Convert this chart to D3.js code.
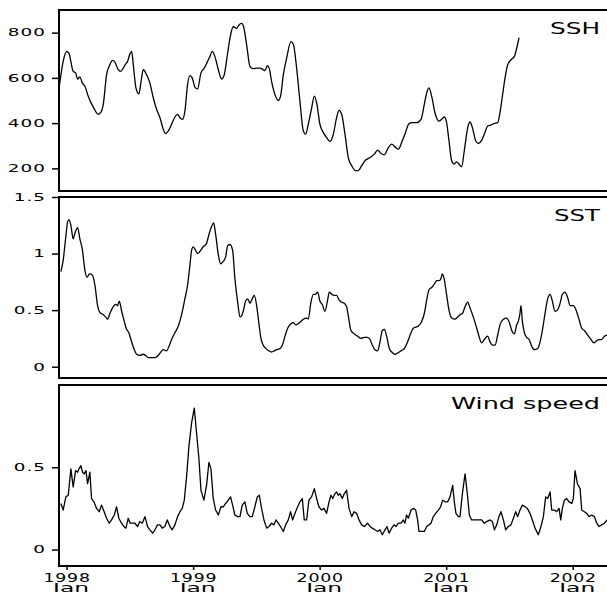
<!DOCTYPE html>
<html>
<head>
<meta charset="utf-8">
<script src="https://cdn.jsdelivr.net/npm/d3@7"></script>
<style>
   html, body { margin: 0; padding: 0; background: #fff; overflow: hidden; }
   svg { display: block; }
   svg text { font-family: "DejaVu Sans", sans-serif; fill: #000; }
</style>
</head>
<body>
<svg class="tripanel" width="607" height="592"></svg>
<script>
// x axis: decimal years, labelled once a year
var yearTicks = [1998, 1999, 2000, 2001, 2002];
var monthLabel = 'Jan';

// SSH
var sshYears = [
   1997.942, 1997.973, 1998.000, 1998.018, 1998.052, 1998.071, 1998.087, 1998.105, 1998.124, 1998.145,
   1998.171, 1998.211, 1998.250, 1998.269, 1998.290, 1998.316, 1998.342, 1998.363, 1998.382, 1998.408,
   1998.427, 1998.448, 1998.466, 1998.482, 1998.500, 1998.514, 1998.527, 1998.548, 1998.571, 1998.587,
   1998.606, 1998.632, 1998.658, 1998.685, 1998.711, 1998.738, 1998.764, 1998.782, 1998.803, 1998.830,
   1998.856, 1998.877, 1998.896, 1998.917, 1998.935, 1998.956, 1998.975, 1998.993, 1999.014, 1999.035,
   1999.062, 1999.088, 1999.114, 1999.133, 1999.151, 1999.172, 1999.199, 1999.225, 1999.246, 1999.273,
   1999.296, 1999.317, 1999.344, 1999.362, 1999.383, 1999.399, 1999.423, 1999.449, 1999.475, 1999.502,
   1999.528, 1999.554, 1999.568, 1999.586, 1999.602, 1999.620, 1999.647, 1999.673, 1999.691, 1999.713,
   1999.739, 1999.773, 1999.792, 1999.818, 1999.844, 1999.871, 1999.889, 1999.910, 1999.937, 1999.958,
   1999.976, 2000.002, 2000.029, 2000.055, 2000.081, 2000.108, 2000.134, 2000.153, 2000.174, 2000.200,
   2000.226, 2000.253, 2000.284, 2000.305, 2000.332, 2000.358, 2000.398, 2000.432, 2000.458, 2000.485,
   2000.511, 2000.543, 2000.569, 2000.595, 2000.622, 2000.653, 2000.674, 2000.706, 2000.732, 2000.766,
   2000.801, 2000.827, 2000.846, 2000.864, 2000.885, 2000.911, 2000.943, 2000.964, 2000.985, 2001.001,
   2001.022, 2001.043, 2001.064, 2001.083, 2001.101, 2001.122, 2001.143, 2001.170, 2001.188, 2001.207,
   2001.233, 2001.254, 2001.280, 2001.301, 2001.328, 2001.354, 2001.381, 2001.407, 2001.425, 2001.444,
   2001.465, 2001.486, 2001.512, 2001.539, 2001.557, 2001.576
];
var sshValues = [
   560, 673, 717, 709, 629, 622, 595, 604, 578, 563,
   519, 471, 439, 446, 483, 614, 658, 677, 670, 636,
   629, 643, 661, 673, 705, 717, 658, 556, 529, 578,
   636, 614, 578, 512, 461, 424, 373, 354, 365, 395,
   427, 439, 424, 417, 453, 570, 610, 600, 559, 551,
   622, 643, 673, 695, 717, 695, 636, 595, 614, 711,
   790, 826, 819, 834, 841, 826, 746, 651, 641, 643,
   643, 636, 632, 654, 641, 585, 526, 500, 519, 614,
   687, 760, 749, 643, 497, 365, 351, 395, 468, 519,
   490, 395, 358, 336, 319, 351, 424, 456, 439, 351,
   248, 212, 190, 190, 212, 234, 248, 263, 281, 266,
   260, 292, 307, 295, 285, 322, 351, 398, 402, 402,
   417, 483, 534, 556, 519, 446, 409, 417, 427, 409,
   322, 234, 219, 229, 219, 207, 278, 380, 405, 380,
   322, 310, 324, 351, 387, 392, 399, 402, 446, 519,
   600, 658, 680, 695, 731, 778
];
var sshTicks = [200, 400, 600, 800];

// SST
var sstYears = [
   1997.955, 1997.973, 1997.992, 1998.008, 1998.018, 1998.034, 1998.052, 1998.066, 1998.087, 1998.105,
   1998.124, 1998.145, 1998.163, 1998.179, 1998.203, 1998.224, 1998.245, 1998.263, 1998.290, 1998.308,
   1998.324, 1998.342, 1998.369, 1998.387, 1998.403, 1998.416, 1998.435, 1998.456, 1998.474, 1998.492,
   1998.514, 1998.535, 1998.553, 1998.579, 1998.606, 1998.624, 1998.645, 1998.672, 1998.698, 1998.724,
   1998.745, 1998.764, 1998.790, 1998.809, 1998.830, 1998.856, 1998.883, 1998.909, 1998.935, 1998.956,
   1998.975, 1998.988, 1999.001, 1999.014, 1999.035, 1999.054, 1999.080, 1999.106, 1999.125, 1999.146,
   1999.162, 1999.178, 1999.199, 1999.217, 1999.238, 1999.257, 1999.273, 1999.291, 1999.312, 1999.330,
   1999.352, 1999.370, 1999.383, 1999.396, 1999.415, 1999.431, 1999.449, 1999.467, 1999.483, 1999.502,
   1999.520, 1999.536, 1999.554, 1999.576, 1999.599, 1999.620, 1999.641, 1999.660, 1999.686, 1999.705,
   1999.726, 1999.747, 1999.773, 1999.792, 1999.810, 1999.831, 1999.852, 1999.871, 1999.897, 1999.910,
   1999.931, 1999.950, 1999.968, 1999.984, 2000.002, 2000.021, 2000.042, 2000.063, 2000.076, 2000.095,
   2000.116, 2000.134, 2000.153, 2000.174, 2000.195, 2000.213, 2000.232, 2000.247, 2000.274, 2000.300,
   2000.326, 2000.353, 2000.379, 2000.398, 2000.416, 2000.437, 2000.458, 2000.477, 2000.495, 2000.511,
   2000.529, 2000.551, 2000.569, 2000.595, 2000.616, 2000.643, 2000.669, 2000.695, 2000.722, 2000.740,
   2000.759, 2000.780, 2000.806, 2000.827, 2000.846, 2000.864, 2000.885, 2000.906, 2000.925, 2000.943,
   2000.959, 2000.969, 2000.985, 2001.004, 2001.022, 2001.043, 2001.070, 2001.091, 2001.109, 2001.128,
   2001.149, 2001.170, 2001.188, 2001.214, 2001.241, 2001.259, 2001.280, 2001.301, 2001.328, 2001.346,
   2001.365, 2001.386, 2001.407, 2001.425, 2001.452, 2001.478, 2001.496, 2001.518, 2001.539, 2001.557,
   2001.570, 2001.583, 2001.591, 2001.602, 2001.618, 2001.636, 2001.655, 2001.676, 2001.697, 2001.723,
   2001.742, 2001.760, 2001.781, 2001.802, 2001.821, 2001.839, 2001.860, 2001.879, 2001.900, 2001.918,
   2001.939, 2001.960, 2001.979, 2002.005, 2002.023, 2002.044, 2002.071, 2002.092, 2002.118, 2002.145,
   2002.166, 2002.190, 2002.208, 2002.229, 2002.250, 2002.271
];
var sstValues = [
   0.84, 0.94, 1.13, 1.28, 1.30, 1.25, 1.13, 1.18, 1.23, 1.13,
   1.04, 0.85, 0.79, 0.82, 0.81, 0.72, 0.54, 0.48, 0.46, 0.44,
   0.42, 0.47, 0.53, 0.55, 0.54, 0.58, 0.49, 0.40, 0.33, 0.30,
   0.22, 0.15, 0.11, 0.10, 0.11, 0.10, 0.08, 0.08, 0.08, 0.10,
   0.13, 0.15, 0.14, 0.18, 0.24, 0.30, 0.36, 0.46, 0.60, 0.72,
   0.90, 1.03, 1.06, 1.04, 1.00, 1.02, 1.06, 1.09, 1.17, 1.24,
   1.27, 1.17, 0.99, 0.91, 0.93, 0.97, 1.07, 1.08, 1.03, 0.78,
   0.57, 0.44, 0.45, 0.49, 0.58, 0.60, 0.56, 0.60, 0.63, 0.54,
   0.38, 0.25, 0.19, 0.16, 0.14, 0.13, 0.14, 0.15, 0.16, 0.19,
   0.27, 0.34, 0.38, 0.39, 0.37, 0.38, 0.40, 0.42, 0.43, 0.42,
   0.57, 0.64, 0.64, 0.66, 0.58, 0.55, 0.49, 0.59, 0.66, 0.64,
   0.63, 0.63, 0.59, 0.57, 0.56, 0.53, 0.41, 0.32, 0.29, 0.27,
   0.25, 0.26, 0.26, 0.24, 0.19, 0.15, 0.14, 0.22, 0.32, 0.33,
   0.27, 0.16, 0.13, 0.11, 0.12, 0.14, 0.16, 0.22, 0.30, 0.34,
   0.35, 0.36, 0.40, 0.47, 0.59, 0.68, 0.70, 0.73, 0.76, 0.76,
   0.78, 0.82, 0.77, 0.63, 0.50, 0.43, 0.42, 0.44, 0.46, 0.47,
   0.53, 0.57, 0.52, 0.44, 0.34, 0.27, 0.21, 0.24, 0.27, 0.22,
   0.19, 0.19, 0.28, 0.37, 0.42, 0.43, 0.40, 0.32, 0.29, 0.37,
   0.40, 0.47, 0.54, 0.40, 0.30, 0.26, 0.24, 0.18, 0.15, 0.16,
   0.22, 0.32, 0.47, 0.60, 0.64, 0.58, 0.49, 0.50, 0.56, 0.64,
   0.66, 0.61, 0.54, 0.54, 0.51, 0.44, 0.34, 0.32, 0.28, 0.24,
   0.21, 0.23, 0.24, 0.24, 0.27, 0.28
];
var sstTicks = [0, 0.5, 1, 1.5];

// Wind speed
var windYears = [
   1997.955, 1997.973, 1997.994, 1998.013, 1998.034, 1998.052, 1998.071, 1998.087, 1998.097, 1998.113,
   1998.126, 1998.139, 1998.153, 1998.166, 1998.184, 1998.197, 1998.216, 1998.237, 1998.258, 1998.276,
   1998.297, 1998.316, 1998.337, 1998.355, 1998.377, 1998.395, 1998.413, 1998.434, 1998.453, 1998.469,
   1998.487, 1998.503, 1998.521, 1998.540, 1998.561, 1998.579, 1998.598, 1998.619, 1998.640, 1998.658,
   1998.680, 1998.698, 1998.719, 1998.738, 1998.756, 1998.777, 1998.796, 1998.817, 1998.835, 1998.856,
   1998.877, 1998.896, 1998.914, 1998.930, 1998.948, 1998.967, 1998.988, 1999.009, 1999.027, 1999.046,
   1999.062, 1999.085, 1999.106, 1999.125, 1999.141, 1999.159, 1999.178, 1999.199, 1999.220, 1999.238,
   1999.257, 1999.278, 1999.296, 1999.312, 1999.330, 1999.352, 1999.370, 1999.388, 1999.409, 1999.428,
   1999.449, 1999.467, 1999.488, 1999.507, 1999.523, 1999.541, 1999.560, 1999.581, 1999.599, 1999.620,
   1999.639, 1999.655, 1999.673, 1999.691, 1999.713, 1999.731, 1999.752, 1999.770, 1999.786, 1999.805,
   1999.826, 1999.844, 1999.863, 1999.878, 1999.897, 1999.915, 1999.936, 1999.958, 1999.976, 1999.994,
   2000.015, 2000.034, 2000.055, 2000.074, 2000.089, 2000.103, 2000.121, 2000.134, 2000.147, 2000.160,
   2000.179, 2000.195, 2000.213, 2000.232, 2000.253, 2000.271, 2000.292, 2000.311, 2000.332, 2000.353,
   2000.379, 2000.398, 2000.416, 2000.437, 2000.458, 2000.477, 2000.495, 2000.516, 2000.532, 2000.548,
   2000.569, 2000.587, 2000.603, 2000.622, 2000.643, 2000.661, 2000.674, 2000.687, 2000.701, 2000.722,
   2000.740, 2000.759, 2000.774, 2000.785, 2000.806, 2000.827, 2000.846, 2000.864, 2000.880, 2000.898,
   2000.917, 2000.938, 2000.956, 2000.972, 2000.991, 2001.012, 2001.030, 2001.051, 2001.064, 2001.077,
   2001.096, 2001.109, 2001.128, 2001.149, 2001.167, 2001.183, 2001.201, 2001.228, 2001.254, 2001.280,
   2001.301, 2001.320, 2001.346, 2001.365, 2001.381, 2001.399, 2001.417, 2001.433, 2001.452, 2001.470,
   2001.491, 2001.512, 2001.531, 2001.549, 2001.565, 2001.583, 2001.602, 2001.623, 2001.641, 2001.662,
   2001.681, 2001.702, 2001.728, 2001.749, 2001.768, 2001.786, 2001.802, 2001.821, 2001.834, 2001.855,
   2001.873, 2001.892, 2001.905, 2001.918, 2001.934, 2001.952, 2001.971, 2001.992, 2002.005, 2002.018,
   2002.037, 2002.058, 2002.071, 2002.092, 2002.110, 2002.129, 2002.150, 2002.171, 2002.190, 2002.208,
   2002.229, 2002.250, 2002.271
];
var windValues = [
   0.28, 0.24, 0.32, 0.33, 0.49, 0.38, 0.48, 0.47, 0.49, 0.51,
   0.47, 0.46, 0.48, 0.40, 0.47, 0.31, 0.29, 0.25, 0.23, 0.27,
   0.23, 0.19, 0.16, 0.18, 0.21, 0.26, 0.19, 0.16, 0.14, 0.13,
   0.19, 0.16, 0.16, 0.16, 0.14, 0.17, 0.16, 0.20, 0.14, 0.12,
   0.10, 0.12, 0.15, 0.15, 0.13, 0.14, 0.18, 0.14, 0.12, 0.15,
   0.20, 0.23, 0.25, 0.30, 0.44, 0.63, 0.77, 0.86, 0.71, 0.55,
   0.36, 0.30, 0.39, 0.53, 0.49, 0.31, 0.24, 0.21, 0.26, 0.26,
   0.28, 0.30, 0.32, 0.27, 0.21, 0.20, 0.20, 0.27, 0.29, 0.22,
   0.20, 0.20, 0.26, 0.32, 0.33, 0.25, 0.18, 0.13, 0.14, 0.16,
   0.15, 0.18, 0.16, 0.14, 0.11, 0.15, 0.18, 0.23, 0.18, 0.22,
   0.26, 0.29, 0.31, 0.18, 0.18, 0.30, 0.32, 0.37, 0.31, 0.26,
   0.24, 0.25, 0.22, 0.29, 0.33, 0.31, 0.34, 0.35, 0.33, 0.34,
   0.31, 0.34, 0.36, 0.25, 0.20, 0.23, 0.22, 0.18, 0.15, 0.14,
   0.16, 0.14, 0.13, 0.12, 0.11, 0.12, 0.09, 0.12, 0.14, 0.10,
   0.13, 0.15, 0.14, 0.16, 0.16, 0.18, 0.16, 0.21, 0.19, 0.24,
   0.25, 0.24, 0.18, 0.11, 0.11, 0.11, 0.14, 0.15, 0.16, 0.20,
   0.22, 0.24, 0.26, 0.30, 0.29, 0.29, 0.32, 0.39, 0.29, 0.22,
   0.20, 0.20, 0.34, 0.46, 0.34, 0.21, 0.18, 0.18, 0.18, 0.18,
   0.16, 0.17, 0.18, 0.17, 0.12, 0.15, 0.20, 0.23, 0.18, 0.12,
   0.14, 0.15, 0.19, 0.23, 0.20, 0.24, 0.27, 0.26, 0.25, 0.22,
   0.18, 0.13, 0.09, 0.14, 0.20, 0.32, 0.31, 0.35, 0.24, 0.24,
   0.23, 0.25, 0.18, 0.25, 0.30, 0.31, 0.29, 0.28, 0.31, 0.48,
   0.40, 0.37, 0.24, 0.23, 0.22, 0.20, 0.21, 0.20, 0.16, 0.14,
   0.15, 0.16, 0.18
];
var windTicks = [0, 0.5];

var Figure = Figure || {};

(function StackedTimeSeries() {
   Figure.StackedTimeSeries = function (svgSelector) {
      var self = this;

      self.svg = d3.select(svgSelector);

      self.bounds = {
         left: 59,
         right: 615,
         panelHeight: 181,
         titleRight: 600
      };

      // one year is about 126.5px, 1998 Jan sits a little right of the frame
      self.xScale = d3.scaleLinear()
         .domain([1997.94, 2002.334])
         .range([self.bounds.left, self.bounds.right]);

      self.panels = [];
   };

   Figure.StackedTimeSeries.prototype.addPanel = function (options) {
      this.panels.push(options);
      return this;
   };

   Figure.StackedTimeSeries.prototype.render = function () {
      var self = this;

      self.panels.forEach(function (panel, index) {
         self.renderPanel(panel, index, index === self.panels.length - 1);
      });
   };

   Figure.StackedTimeSeries.prototype.renderPanel = function (panel, index, isBottom) {
      var self = this;

      var top = panel.top, bottom = top + self.bounds.panelHeight;
      var width = self.bounds.right - self.bounds.left;
      var group, yScale, yAxis, yGroup, line, clipId, points;

      yScale = d3.scaleLinear()
         .domain(panel.domain)
         .range([bottom, top]);

      group = self.svg.append('g').attr('class', 'panel panel-' + index);

      clipId = 'clip-' + index;
      group.append('clipPath')
         .attr('id', clipId)
         .append('rect')
         .attr('x', self.bounds.left)
         .attr('y', top)
         .attr('width', width)
         .attr('height', bottom - top);

      points = d3.zip(panel.years, panel.values);

      line = d3.line()
         .curve(panel.curve || d3.curveLinear)
         .x(function (d) {
            return self.xScale(d[0]);
         })
         .y(function (d) {
            return yScale(d[1]);
         });

      group.append('path')
         .datum(points)
         .attr('clip-path', 'url(#' + clipId + ')')
         .attr('fill', 'none')
         .attr('stroke', '#000')
         .attr('stroke-width', 1.3)
         .attr('stroke-linejoin', 'round')
         .attr('d', line);

      // frame
      group.append('rect')
         .attr('x', self.bounds.left)
         .attr('y', top)
         .attr('width', width)
         .attr('height', bottom - top)
         .attr('fill', 'none')
         .attr('stroke', '#000')
         .attr('stroke-width', 2);

      yAxis = d3.axisLeft(yScale)
         .tickValues(panel.ticks)
         .tickSize(7)
         .tickFormat(d3.format('~g'));

      yGroup = group.append('g')
         .attr('class', 'axis axis--y')
         .attr('transform', 'translate(' + self.bounds.left + ',0)')
         .call(yAxis);

      yGroup.select('.domain').remove();
      yGroup.selectAll('.tick line').attr('stroke-width', 1.5);

      // the original lettering is a wide plotter face: stretch it sideways
      yGroup.selectAll('.tick text')
         .attr('x', -13 / 1.75)
         .attr('transform', 'scale(1.75,1)')
         .style('font-size', '10.5px')
         .style('letter-spacing', '0.6px');

      group.append('text')
         .attr('class', 'panel-title')
         .attr('x', self.bounds.titleRight)
         .attr('y', top + 24)
         .attr('text-anchor', 'end')
         .attr('textLength', panel.titleWidth)
         .attr('lengthAdjust', 'spacingAndGlyphs')
         .style('font-size', '15px')
         .text(panel.name);

      if (isBottom)
         self.constructBottomScale(bottom);
   };

   Figure.StackedTimeSeries.prototype.constructBottomScale = function (bottom) {
      var self = this;

      var axis, tickGroup;

      axis = d3.axisBottom(self.xScale)
         .tickValues(yearTicks)
         .tickSize(4)
         .tickFormat(d3.format('d'));

      tickGroup = self.svg.append('g')
         .attr('class', 'axis axis--x')
         .attr('transform', 'translate(0,' + bottom + ')')
         .call(axis);

      tickGroup.select('.domain').remove();
      tickGroup.selectAll('.tick line').attr('stroke-width', 1.5);

      tickGroup.selectAll('.tick text')
         .attr('y', 16)
         .attr('dy', 0)
         .attr('transform', 'scale(1.45,1)')
         .style('font-size', '12px')
         .style('letter-spacing', '0.5px');

      tickGroup.selectAll('.tick')
         .append('text')
         .attr('class', 'month')
         .attr('x', 4)
         .attr('y', 25.5)
         .attr('text-anchor', 'middle')
         .attr('textLength', 36)
         .attr('lengthAdjust', 'spacingAndGlyphs')
         .style('font-size', '12px')
         .text(monthLabel);
   };
})();

var figure = new Figure.StackedTimeSeries('svg.tripanel');

figure
   .addPanel({name: 'SSH', top: 10, domain: [100, 900], ticks: sshTicks,
      years: sshYears, values: sshValues, titleWidth: 50, curve: d3.curveMonotoneX})
   .addPanel({name: 'SST', top: 197, domain: [-0.1, 1.5], ticks: sstTicks,
      years: sstYears, values: sstValues, titleWidth: 46, curve: d3.curveMonotoneX})
   .addPanel({name: 'Wind speed', top: 385, domain: [-0.1, 1.0], ticks: windTicks,
      years: windYears, values: windValues, titleWidth: 149});

figure.render();
</script>
</body>
</html>
